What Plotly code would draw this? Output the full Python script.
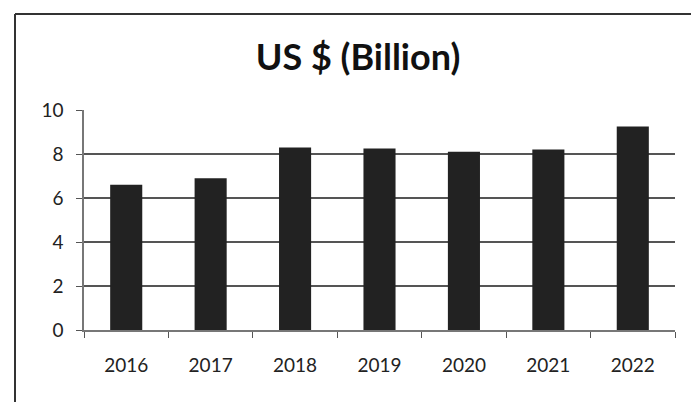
import plotly.graph_objects as go

years = ["2016", "2017", "2018", "2019", "2020", "2021", "2022"]
values = [6.6, 6.9, 8.3, 8.25, 8.1, 8.2, 9.25]
y_ticks = [0, 2, 4, 6, 8, 10]

FONT = "Lato, 'DejaVu Sans', sans-serif"

fig = go.Figure(
    go.Bar(
        x=years,
        y=values,
        marker=dict(color="#222222", line=dict(width=0)),
        width=0.38,
    )
)

# plot-area geometry in pixels, used to place the outer frame lines
W, H = 691, 402
L, R, T, B = 84, 16, 110, 72
pw, ph = W - L - R, H - T - B

def px_x(x):
    return (x - L) / pw

def px_y(y):
    return (H - B - y) / ph

frame = dict(color="#333333", width=2)
fig.add_shape(type="line", xref="paper", yref="paper",
              x0=px_x(15), x1=px_x(15), y0=px_y(14), y1=px_y(H + 2), line=frame)
fig.add_shape(type="line", xref="paper", yref="paper",
              x0=px_x(15), x1=px_x(W + 2), y0=px_y(14), y1=px_y(14), line=frame)

fig.update_layout(
    width=W,
    height=H,
    margin=dict(l=L, r=R, t=T, b=B),
    paper_bgcolor="white",
    plot_bgcolor="white",
    showlegend=False,
    title=dict(
        text="<b>US $ (Billion)</b>",
        x=358 / W,
        xanchor="center",
        y=1 - 57 / H,
        yanchor="middle",
        font=dict(family=FONT, size=36, color="#111111"),
    ),
    bargap=0.62,
)

fig.update_xaxes(
    type="category",
    showline=True,
    linecolor="#777777",
    linewidth=1.5,
    ticks="outside",
    tickson="boundaries",
    ticklen=6,
    tickcolor="#555555",
    tickfont=dict(family=FONT, size=19, color="#222222"),
    ticklabelstandoff=17,
    showgrid=False,
)

fig.update_yaxes(
    range=[0, 10],
    tickvals=y_ticks,
    ticktext=[str(v) for v in y_ticks],
    showline=True,
    linecolor="#777777",
    linewidth=1.5,
    ticks="outside",
    ticklen=6,
    tickcolor="#555555",
    tickfont=dict(family=FONT, size=19, color="#222222"),
    ticklabelstandoff=9,
    showgrid=True,
    gridcolor="#555555",
    gridwidth=1.5,
    zeroline=False,
)

fig.write_html("out.html")
